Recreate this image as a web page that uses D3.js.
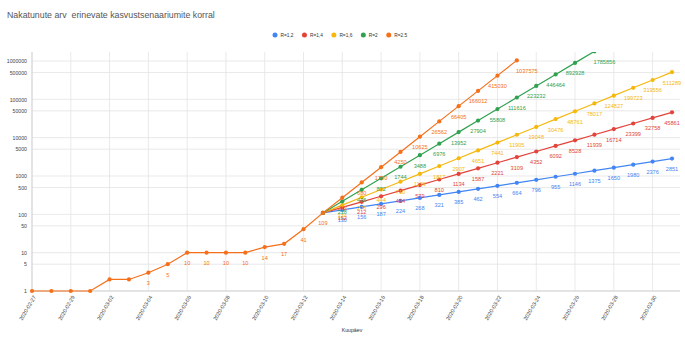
<!DOCTYPE html>
<html>
<head>
<meta charset="utf-8">
<script src="https://cdn.jsdelivr.net/npm/d3@7/dist/d3.min.js"></script>
<style>
  html, body { margin: 0; padding: 0; background: #fff; }
  svg { display: block; font-family: "Liberation Sans", Arial, sans-serif; }
</style>
</head>
<body>
<svg id="chart" width="685" height="342"></svg>
<script>
// Confirmed cases to date (daily), then projected growth for each R scenario
const historyStart = "2020-02-27";
const historyCases = [1, 1, 1, 1, 2, 2, 3, 5, 10, 10, 10, 10, 14, 17, 41, 109];

const projectionStart = "2020-03-14";
const scenarioNames = ["R=1,2", "R=1,4", "R=1,6", "R=2", "R=2.5"];
const scenarioColors = ["#4285F4", "#E2433A", "#F6B80C", "#2FA14F", "#F5701A"];
const casesR12 = [130, 156, 187, 224, 268, 321, 385, 462, 554, 664, 796, 955, 1146, 1375, 1650, 1980, 2376, 2851];
const casesR14 = [152, 212, 296, 414, 579, 810, 1134, 1587, 2221, 3109, 4352, 6092, 8528, 11939, 16714, 23399, 32758, 45861];
const casesR16 = [174, 278, 444, 710, 1136, 1817, 2907, 4651, 7441, 11905, 19048, 30476, 48761, 78017, 124827, 199723, 319556, 511289];
const casesR2 = [218, 436, 872, 1744, 3488, 6976, 13952, 27904, 55808, 111616, 223232, 446464, 892928, 1785856];
const casesR25 = [272, 680, 1700, 4250, 10625, 26562, 66405, 166012, 415030, 1037575];

const yTickValues = [1, 5, 10, 50, 100, 500, 1000, 5000, 10000, 50000, 100000, 500000, 1000000];
const xTickStart = "2020-02-27";
const xTickEnd = "2020-03-30";
const xEnd = "2020-03-31";

const titleText = "Nakatunute arv  erinevate kasvustsenaariumite korral";
const xAxisTitle = "Kuupäev";

const parse = d3.utcParse("%Y-%m-%d");
const fmtDate = d3.utcFormat("%Y-%m-%d");

const svg = d3.select("#chart");
const plot = { left: 32, right: 680, top: 52, bottom: 291 };

const x = d3.scaleUtc()
  .domain([parse(historyStart), parse(xEnd)])
  .range([32, 672]);
const y = d3.scaleLog()
  .domain([1, 1000000])
  .range([291, 61]);

// Title
svg.append("text")
  .attr("x", 7).attr("y", 18)
  .attr("font-size", 8.8)
  .attr("fill", "#555")
  .attr("xml:space", "preserve")
  .style("white-space", "pre")
  .text(titleText);

// Gridlines
const xTicks = d3.utcDay.range(parse(xTickStart), d3.utcDay.offset(parse(xTickEnd), 1), 1)
  .filter((d, i) => i % 2 === 0);

const grid = svg.append("g");
grid.selectAll("line.h").data(yTickValues).join("line")
  .attr("x1", plot.left).attr("x2", plot.right)
  .attr("y1", d => y(d)).attr("y2", d => y(d))
  .attr("stroke", "#e3e3e3").attr("stroke-width", 0.8);
grid.selectAll("line.v").data(xTicks).join("line")
  .attr("x1", d => x(d)).attr("x2", d => x(d))
  .attr("y1", plot.top).attr("y2", plot.bottom)
  .attr("stroke", "#e3e3e3").attr("stroke-width", 0.8);
// Axis lines
svg.append("line")
  .attr("x1", plot.left).attr("x2", plot.right)
  .attr("y1", y(1)).attr("y2", y(1))
  .attr("stroke", "#d0d0d0").attr("stroke-width", 0.9);
svg.append("line")
  .attr("x1", plot.left).attr("x2", plot.left)
  .attr("y1", plot.top).attr("y2", plot.bottom)
  .attr("stroke", "#d0d0d0").attr("stroke-width", 0.9);

// Y axis labels
const yAxis = d3.axisLeft(y).tickValues(yTickValues).tickFormat(d3.format("d")).tickSize(0).tickPadding(5);
const gy = svg.append("g").attr("transform", `translate(${plot.left},0)`).call(yAxis);
gy.select(".domain").remove();
gy.selectAll("text").attr("font-size", 5.2).attr("fill", "#444")
  .attr("font-family", "Liberation Sans, Arial, sans-serif");

// X axis labels (rotated)
const xAxis = d3.axisBottom(x).tickValues(xTicks).tickFormat(fmtDate).tickSize(0);
const gx = svg.append("g").attr("transform", `translate(0,${plot.bottom})`).call(xAxis);
gx.select(".domain").remove();
gx.selectAll("text")
  .attr("font-size", 5.4).attr("fill", "#444")
  .attr("font-family", "Liberation Sans, Arial, sans-serif")
  .attr("text-anchor", "end")
  .attr("dy", "0.35em")
  .attr("transform", "translate(2,5) rotate(-60)")
  .attr("y", 0).attr("x", 0);

svg.append("text")
  .attr("x", (32 + 672) / 2).attr("y", 332)
  .attr("text-anchor", "middle")
  .attr("font-size", 5.2).attr("fill", "#333")
  .text(xAxisTitle);

// Build series
const historyDates = historyCases.map((v, i) => d3.utcDay.offset(parse(historyStart), i));
const lastHist = { date: historyDates[historyDates.length - 1], value: historyCases[historyCases.length - 1] };
const projSeries = [casesR12, casesR14, casesR16, casesR2, casesR25].map((arr, k) => {
  const pts = arr.map((v, i) => ({ date: d3.utcDay.offset(parse(projectionStart), i), value: v, label: true }));
  let all = [{ ...lastHist, label: false }, ...pts];
  if (k === 4) {
    const hist = historyCases.map((v, i) => ({ date: historyDates[i], value: v, label: v >= 3 }));
    all = [...hist, ...pts];
  }
  return { name: scenarioNames[k], color: scenarioColors[k], points: all };
});

svg.append("defs").append("clipPath").attr("id", "plotClip")
  .append("rect").attr("x", plot.left - 5).attr("y", plot.top)
  .attr("width", plot.right - plot.left + 10).attr("height", plot.bottom - plot.top + 5);

const line = d3.line().x(d => x(d.date)).y(d => y(d.value));
const marks = svg.append("g").attr("clip-path", "url(#plotClip)");
projSeries.forEach(s => {
  marks.append("path")
    .attr("d", line(s.points))
    .attr("fill", "none").attr("stroke", s.color).attr("stroke-width", 1.2);
  marks.selectAll(null).data(s.points).join("circle")
    .attr("cx", d => x(d.date)).attr("cy", d => y(d.value))
    .attr("r", 2.1).attr("fill", s.color);
});

// Value labels under each point; the last label of a series that runs off the top sits right of it
const labels = svg.append("g");
projSeries.forEach(s => {
  const lastIdx = s.points.length - 1;
  labels.selectAll(null).data(s.points.filter(p => p.label)).join("text")
    .attr("x", d => x(d.date) + (d === s.points[lastIdx] && y(d.value) < 70 ? 10 : 0))
    .attr("y", d => y(d.value) + 12.5)
    .attr("text-anchor", "middle")
    .attr("font-size", 5.6).attr("fill", s.color)
    .text(d => d.value);
});

// Legend
let lx = 275;
const legend = svg.append("g");
scenarioNames.forEach((n, i) => {
  legend.append("circle").attr("cx", lx).attr("cy", 35).attr("r", 2.5).attr("fill", scenarioColors[i]);
  const t = legend.append("text").attr("x", lx + 5.5).attr("y", 36.8)
    .attr("font-size", 4.8).attr("fill", "#333").text(n);
  lx = lx + 5.5 + t.node().getComputedTextLength() + 11;
});
</script>
</body>
</html>
